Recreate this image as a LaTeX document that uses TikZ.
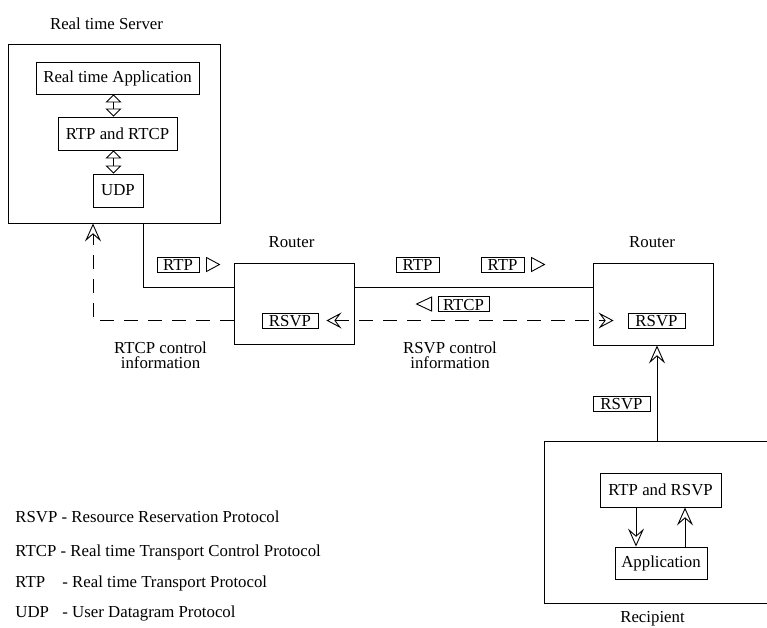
\documentclass[tikz,border=0pt]{standalone}
\usepackage{fontspec}
\setmainfont{Liberation Serif}
\usetikzlibrary{arrows.meta}
\begin{document}
\begin{tikzpicture}[x=1pt,y=-1pt,
  font=\fontsize{16.8}{15.5}\selectfont,
  line width=0.9pt,
  box/.style={draw, inner sep=0pt, align=center},
  tag/.style={draw, inner xsep=0pt, inner ysep=1pt, text height=12.5pt, text depth=0.5pt},
  lbl/.style={inner sep=0pt, align=center},
  dashline/.style={dash pattern=on 14pt off 10pt},
  sarrow/.style={-{Stealth[open,length=18pt,width=16pt,inset=7pt]}},
  sboth/.style={{Stealth[open,length=15pt,width=16pt,inset=6pt]}-{Stealth[open,length=15pt,width=16pt,inset=6pt]}},
  dbl/.style={{Triangle[open,length=8pt,width=16pt]}-{Triangle[open,length=8pt,width=16pt]}}
]
\clip (0,0) rectangle (767,627);

% Server
\node[box, minimum width=212pt, minimum height=179pt] (server) at (114,133.5) {};
\node[lbl] (serverlbl) at (106.5,24) {Real time Server};
\node[box, minimum width=163pt, minimum height=32pt] (app) at (117.5,78) {Real time Application};
\node[box, minimum width=119pt, minimum height=33pt] (rtprtcp) at (117.5,133.5) {RTP and RTCP};
\node[box, minimum width=50pt, minimum height=33pt] (udp) at (118,190.5) {UDP};
\coordinate (ax) at (113.5,0);
\draw[dbl] (app.south -| ax) -- (rtprtcp.north -| ax);
\draw[dbl] (rtprtcp.south -| ax) -- (udp.north -| ax);

% Routers
\node[box, minimum width=120pt, minimum height=81pt] (router1) at (294,303.5) {};
\node[lbl] (r1lbl) at (291.5,242.5) {Router};
\node[box, minimum width=120pt, minimum height=82pt] (router2) at (653,304) {};
\node[lbl] (r2lbl) at (652,242.5) {Router};

% Tags
\node[tag, minimum width=42pt] (rtp1) at (178,264.5) {RTP};
\node[tag, minimum width=43pt] (rtp2) at (417.5,264.5) {RTP};
\node[tag, minimum width=43pt] (rtp3) at (502.5,264.5) {RTP};
\node[tag, minimum width=51pt] (rtcp) at (463.5,304) {RTCP};
\node[tag, minimum width=56pt] (rsvp1) at (290,320.5) {RSVP};
\node[tag, minimum width=57pt] (rsvp2) at (656.5,320.5) {RSVP};
\node[tag, minimum width=57pt] (rsvp3) at (621.5,403.5) {RSVP};

% Triangles
\draw (rtp1.east) ++(7,-7) -- ++(0,14) -- ++(13,-7) -- cycle;
\draw (rtp3.east) ++(7,-7) -- ++(0,14) -- ++(13,-7) -- cycle;
\draw (rtcp.west) ++(-6,-7) -- ++(0,14) -- ++(-15,-7) -- cycle;

% Solid data path
\coordinate (l1) at (143,287);
\draw (server.south -| l1) |- (router1.west |- l1);
\draw (router1.east |- l1) -- (router2.west |- l1);

% Dashed control paths
\coordinate (dx) at (93,0);
\draw[dashline, sarrow] (router1.west |- rsvp1) -| (server.south -| dx);
\draw[dashline, sboth] ([xshift=8pt]rsvp1.east) -- ([xshift=-14pt]rsvp2.west);

\node[lbl] (rtcpinfo) at (160.5,355) {RTCP control\\information};
\node[lbl] (rsvpinfo) at (450,355) {RSVP control\\information};

% Recipient
\node[box, minimum width=231pt, minimum height=162pt] (recip) at (659.5,522) {};
\node[box, minimum width=121pt, minimum height=34pt] (rr) at (660.5,490) {RTP and RSVP};
\node[box, minimum width=92pt, minimum height=32pt] (appl) at (661,563) {Application};
\node[lbl, anchor=base] (reciplbl) at (652.5,622) {Recipient};
\coordinate (vx) at (657,0);
\draw[sarrow] (recip.north -| vx) -- (router2.south -| vx);
\coordinate (d1) at (636,0);
\coordinate (d2) at (685,0);
\draw[sarrow] (rr.south -| d1) -- (appl.north -| d1);
\draw[sarrow] (appl.north -| d2) -- (rr.south -| d2);

% Legend
\node[lbl, anchor=base west] (leg1) at (15,522) {RSVP - Resource Reservation Protocol};
\node[lbl, anchor=base west] (leg2) at (15,556) {RTCP - Real time Transport Control Protocol};
\node[lbl, anchor=base west] (leg3a) at (15,587) {RTP};
\node[lbl, anchor=base west] (leg3b) at (62,587) {- Real time Transport Protocol};
\node[lbl, anchor=base west] (leg4a) at (15,617) {UDP};
\node[lbl, anchor=base west] (leg4b) at (62,617) {- User Datagram Protocol};
\end{tikzpicture}
\end{document}
